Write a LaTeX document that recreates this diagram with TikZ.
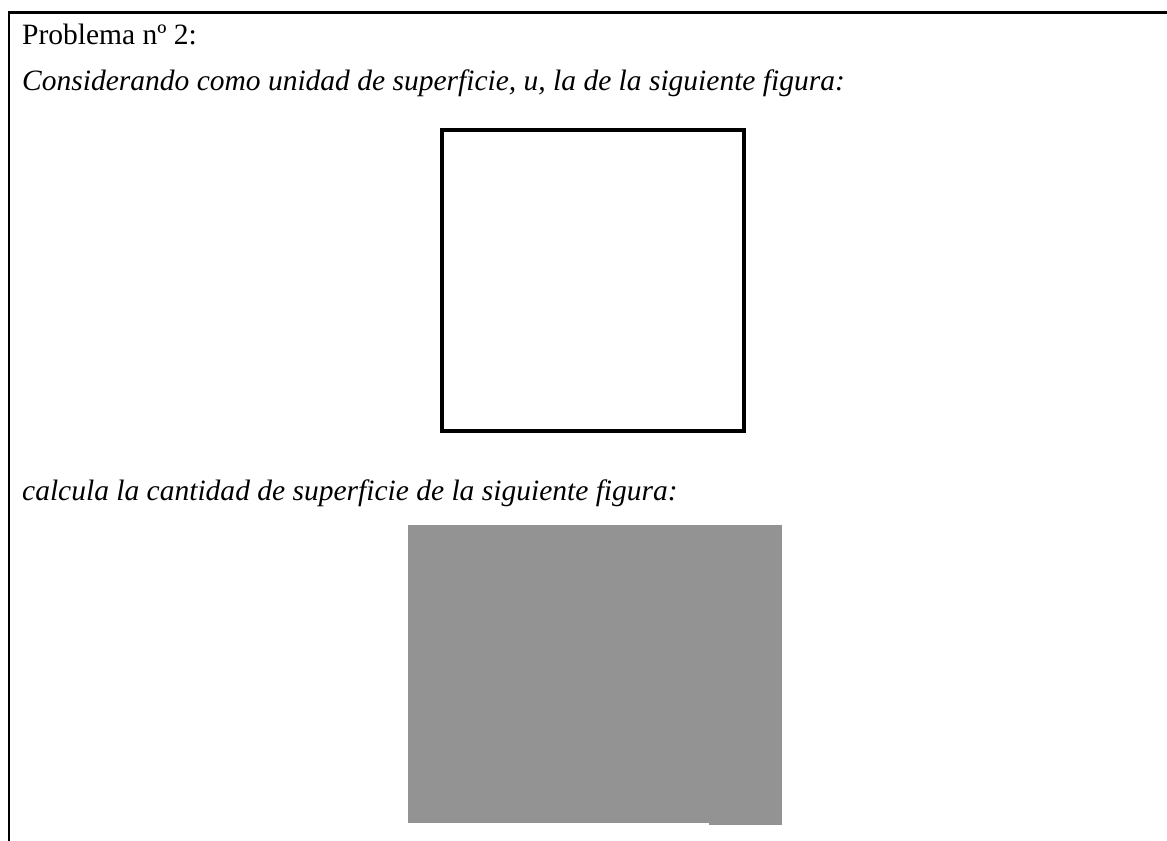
\documentclass[tikz,border=0pt]{standalone}
\usepackage{fontspec}
\setmainfont{Liberation Serif}
\definecolor{figgray}{HTML}{939393}
\tikzset{
  txt/.style={anchor=base west, inner sep=0pt, font=\fontsize{29.5bp}{35bp}\selectfont},
  frameline/.style={line width=2.5bp, black},
  unitsq/.style={draw=black, line width=4bp},
  grayfig/.style={fill=figgray, draw=none}
}
\begin{document}
\begin{tikzpicture}[x=1bp,y=-1bp]
\useasboundingbox (0,0) rectangle (1167,841);
% frame
\coordinate (tl) at (8,12.5);
\coordinate (tr) at (1167,12.5);
\coordinate (bl) at (9,841);
\draw[frameline] (tl) -- (tr);
\draw[frameline] (9,11.25) -- (bl);
% texts
\node[txt] (t1) at (22,44) {Problema nº 2:};
\node[txt] (t2) at (22,90) {\itshape Considerando como unidad de superficie, u, la de la siguiente figura:};
% unit square
\draw[unitsq] (442,130) rectangle (744,431);
\node[txt] (t3) at (22,500) {\itshape calcula la cantidad de superficie de la siguiente figura:};
% gray figure
\fill[grayfig] (408,525) rectangle (782,823.3);
\fill[grayfig] (709,823) rectangle (782,824.7);
\end{tikzpicture}
\end{document}
